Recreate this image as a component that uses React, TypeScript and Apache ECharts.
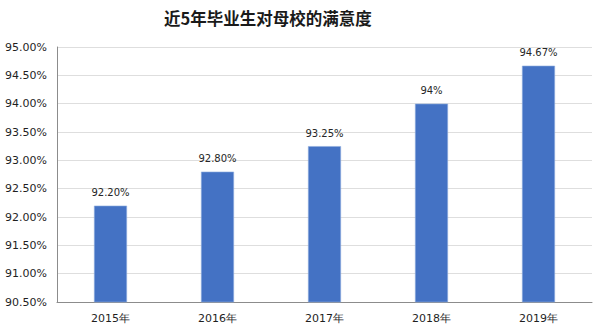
import React, { useEffect, useRef } from "react";
import * as echarts from "echarts";

const categories = ["2015年", "2016年", "2017年", "2018年", "2019年"];
const values = [92.2, 92.8, 93.25, 94.0, 94.67];
const valueLabels = ["92.20%", "92.80%", "93.25%", "94%", "94.67%"];
const titleText = "近5年毕业生对母校的满意度";

export default function App() {
  const ref = useRef<HTMLDivElement>(null);
  useEffect(() => {
    if (!ref.current) return;
    const chart = echarts.init(ref.current, undefined, { renderer: "svg" });
    chart.setOption({
      animation: false,
      backgroundColor: "#ffffff",
      title: {
        text: titleText,
        left: 159,
        top: 5,
        textStyle: {
          fontFamily: "Noto Sans CJK SC",
          fontSize: 16.5,
          fontWeight: "bold",
          color: "#1a1a1a",
        },
      },
      grid: { left: 57, right: 8, top: 47, bottom: 32, containLabel: false },
      xAxis: {
        type: "category",
        data: categories,
        axisLine: { show: true, lineStyle: { color: "#8c8c8c", width: 1 } },
        axisTick: { show: false },
        axisLabel: {
          color: "#1f1f1f",
          fontFamily: "DejaVu Sans",
          fontSize: 11,
          margin: 11,
        },
      },
      yAxis: {
        type: "value",
        min: 90.5,
        max: 95,
        interval: 0.5,
        axisLine: { show: true, lineStyle: { color: "#8c8c8c", width: 1 } },
        axisTick: { show: false },
        splitLine: { show: true, lineStyle: { color: "#dedede", width: 1 } },
        axisLabel: {
          color: "#1f1f1f",
          fontFamily: "DejaVu Sans",
          fontSize: 11,
          margin: 10,
          formatter: (v: number) => v.toFixed(2) + "%",
        },
      },
      series: [
        {
          type: "bar",
          data: values,
          barWidth: 33,
          itemStyle: { color: "#4472C4", borderColor: "#8fadde", borderWidth: 0.6 },
          label: {
            show: true,
            position: "top",
            distance: 8,
            color: "#262626",
            fontFamily: "DejaVu Sans",
            fontSize: 10,
            formatter: (p: any) => valueLabels[p.dataIndex],
          },
        },
      ],
    });
    return () => chart.dispose();
  }, []);
  return (
    <div
      ref={ref}
      style={{ position: "fixed", left: 0, top: 0, width: 600, height: 334 }}
    />
  );
}
